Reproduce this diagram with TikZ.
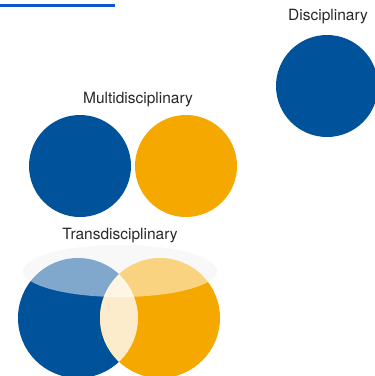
\documentclass[tikz,border=0pt]{standalone}
\usepackage{fontspec}
\setmainfont{TeX Gyre Heros}
\definecolor{dblue}{RGB}{0,82,155}
\definecolor{dorange}{RGB}{245,168,0}
\definecolor{lenscream}{RGB}{253,236,203}
\definecolor{txtgray}{RGB}{40,40,40}
\definecolor{linkblue}{RGB}{17,85,204}
\usetikzlibrary{positioning}
\begin{document}
\begin{tikzpicture}[x=1pt, y=-1pt, every node/.style={font=\fontsize{15.5}{18}\selectfont, text=txtgray},
  disc/.style={circle, minimum size=102pt, inner sep=0pt},
  venn/.style={circle, minimum size=120pt, inner sep=0pt}]
\useasboundingbox (0,0) rectangle (375,376);
% Link underline at the top
\coordinate (ulstart) at (0,5.5);
\coordinate (ulend) at (115,5.5);
\draw[linkblue, line width=3pt] (ulstart) -- (ulend);
% Disciplinary
\node[disc, fill=dblue] (single) at (327,86) {};
\node (singlelabel) at (328,17) {Disciplinary};
% Multidisciplinary
\node[disc, fill=dblue] (multiblue) at (80,166) {};
\node[disc, fill=dorange] (multiorange) at (186,166) {};
\node (multilabel) at (138,100) {Multidisciplinary};
% Transdisciplinary
\fill[gray!10] (120,271) ellipse [x radius=97pt, y radius=26pt];
\node[venn, fill=dblue] (transblue) at (78,318) {};
\node[venn, fill=dorange] (transorange) at (160,318) {};
\begin{scope}
  \clip (transblue.center) circle (60pt);
  \fill[lenscream] (transorange.center) circle (60pt);
\end{scope}
\fill[white, opacity=0.5] (120,271) ellipse [x radius=97pt, y radius=26pt];
\node (translabel) at (120,236) {Transdisciplinary};
\end{tikzpicture}
\end{document}
